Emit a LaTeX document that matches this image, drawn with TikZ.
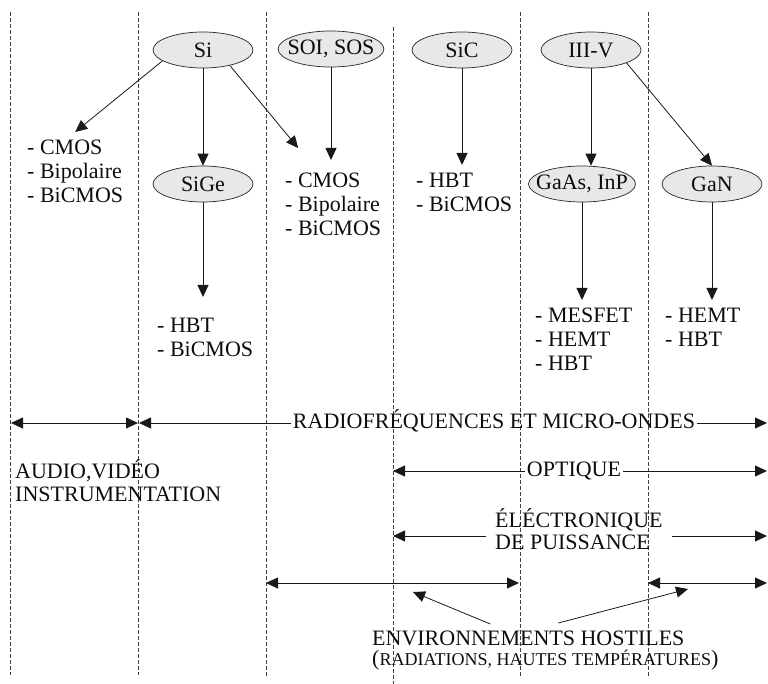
\documentclass[tikz,border=0pt]{standalone}
\usepackage{fontspec}
\setmainfont{Liberation Serif}
\usetikzlibrary{shapes.geometric,arrows.meta}

\begin{document}
\begin{tikzpicture}[x=1pt, y=-1pt,
         font=\fontsize{22}{24}\selectfont,
         text=black!95,
         arrow/.style={-{Triangle[length=12pt,width=11pt]},black!90,line width=0.8pt},
         twoway/.style={{Triangle[length=12pt,width=11pt]}-{Triangle[length=12pt,width=11pt]},black!90,line width=0.8pt},
         column/.style={dash pattern=on 4pt off 2pt, black!75, line width=0.6pt},
         material/.style={ellipse, draw=black!85, line width=0.7pt, fill=gray!18, minimum width=100pt, minimum height=36pt, inner xsep=-6pt, inner ysep=0pt},
         techno/.style={align=left, anchor=north west, inner xsep=0pt, inner ysep=8pt},
         fieldlabel/.style={inner sep=1.5pt}
      ]
   \useasboundingbox (0,0) rectangle (768,684);

   % dashed columns
   \draw[column] (10,12) -- (10,675);
   \draw[column] (138,12) -- (138,675);
   \draw[column] (266,12) -- (266,678);
   \draw[column] (393,27) -- (393,684);
   \draw[column] (520,12) -- (520,678);
   \draw[column] (648,12) -- (648,678);

   % materials
   \node[material] (si) at (203,50) {Si};
   \node[material] (soi) at (331,49) {SOI, SOS};
   \node[material] (sic) at (462,50) {SiC};
   \node[material] (iiiv) at (591,50) {III-V};
   \node[material] (sige) at (203,184) {SiGe};
   \node[material, inner xsep=-8pt] (gaas) at (582,184) {GaAs, InP};
   \node[material] (gan) at (712,184) {GaN};

   % technologies
   \node[techno] (siL) at (27,132) {- CMOS\\- Bipolaire\\- BiCMOS};
   \node[techno] (soiL) at (285,165) {- CMOS\\- Bipolaire\\- BiCMOS};
   \node[techno] (sigeL) at (157,310) {- HBT\\- BiCMOS};
   \node[techno] (sicL) at (416,165) {- HBT\\- BiCMOS};
   \node[techno] (gaasL) at (535,300) {- MESFET\\- HEMT\\- HBT};
   \node[techno] (ganL) at (665,300) {- HEMT\\- HBT};

   \draw[arrow] (si.195) -- (siL.north);
   \draw[arrow] (si) -- (sige);
   \draw[arrow, shorten >=22pt] (si.-30) -- ([xshift=-21pt]soiL.north);
   \draw[arrow, shorten >=5pt] (soi) -- (soi |- soiL.north);
   \draw[arrow, shorten >=13pt] (sige) -- (sige |- sigeL.north);
   \draw[arrow] (sic) -- (sic |- sicL.north);
   \draw[arrow] (iiiv) -- (iiiv |- gaas.north);
   \draw[arrow] (iiiv.south east) -- (gan.north);
   \draw[arrow] (gaas) -- (gaas |- gaasL.north);
   \draw[arrow] (gan) -- (gan |- ganL.north);

   % application fields
   \coordinate (audioA) at (11,423);
   \coordinate (audioB) at (138,423);
   \coordinate (radioA) at (139,423);
   \coordinate (radioB) at (767,423);
   \draw[twoway] (audioA) -- (audioB);
   \node[fieldlabel] (radio) at (494,421) {RADIOFRÉQUENCES ET MICRO-ONDES};
   \draw[arrow] (radio.west |- radioA) -- (radioA);
   \draw[arrow] (radio.east |- radioB) -- (radioB);

   \node[techno, inner ysep=0pt, font=\fontsize{22}{23}\selectfont] (audio) at (15,459) {AUDIO,VIDÉO\\INSTRUMENTATION};

   \coordinate (optiqueA) at (393,471);
   \coordinate (optiqueB) at (767,471);
   \node[fieldlabel] (optique) at (574,471) {OPTIQUE};
   \draw[arrow] (optique) -- (optiqueA);
   \draw[arrow] (optique) -- (optiqueB);

   \coordinate (elecA) at (393,536);
   \coordinate (elecB) at (767,536);
   \node[techno, inner ysep=0pt, inner xsep=9pt, font=\fontsize{22}{22}\selectfont] (elec) at (486,508) {ÉLÉCTRONIQUE\\DE PUISSANCE};
   \draw[arrow] (elec.west |- elecA) -- (elecA);
   \draw[arrow] (elec.east |- elecB) -- (elecB);

   \coordinate (hostA) at (266,583);
   \coordinate (hostB) at (519,583);
   \coordinate (hostC) at (648,583);
   \coordinate (hostD) at (767,583);
   \draw[twoway] (hostA) -- (hostB);
   \draw[twoway] (hostC) -- (hostD);

   \node[techno, inner ysep=0pt, font=\fontsize{22}{20}\selectfont] (env) at (372,631) {ENVIRONNEMENTS HOSTILES\\({\fontsize{18}{20}\selectfont RADIATIONS, HAUTES TEMPÉRATURES})};
   \coordinate (envA) at (413,592);
   \coordinate (envB) at (688,589);
   \draw[arrow] ([xshift=-55pt,yshift=7pt]env.north) -- (envA);
   \draw[arrow] ([xshift=13pt,yshift=8pt]env.north) -- (envB);
\end{tikzpicture}
\end{document}
